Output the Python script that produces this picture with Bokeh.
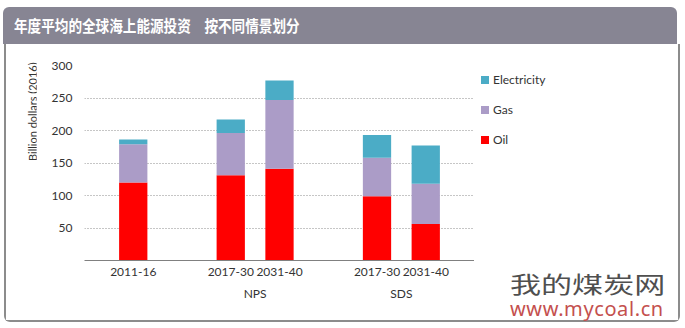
from bokeh.plotting import figure
from bokeh.layouts import column, row
from bokeh.models import ColumnDataSource, FactorRange, FixedTicker, Div
from bokeh.embed import file_html
from bokeh.resources import INLINE

# ---- data ----
groups = [" ", "NPS", "NPS", "SDS", "SDS"]
periods = ["2011-16", "2017-30", "2031-40", "2017-30", "2031-40"]
oil = [120, 131, 141, 99, 56]
gas = [59, 65, 106, 59, 62]
electricity = [7, 21, 30, 35, 59]
series = ["Oil", "Gas", "Electricity"]
colors = ["#ff0000", "#ab9cc7", "#4bacc6"]
y_ticks = [50, 100, 150, 200, 250, 300]
title_text = "年度平均的全球海上能源投资\u3000按不同情景划分"
y_title = "Billion dollars (2016)"

FONT = "Lato"
CH = 276                       # canvas height inside the grey border

factors = list(zip(groups, periods))
src = ColumnDataSource(dict(x=factors, Oil=oil, Gas=gas, Electricity=electricity))

xr = FactorRange(*factors, group_padding=1.0, factor_padding=0.0,
                 range_padding=1 / 7, range_padding_units="percent")
p = figure(x_range=xr, y_range=(0, 300), width=438, height=CH,
           output_backend="svg", toolbar_location=None,
           min_border_left=48, min_border_right=0,
           min_border_top=21, min_border_bottom=60)
p.outline_line_color = None
p.background_fill_color = "white"
p.border_fill_color = "white"

p.vbar_stack(series, x="x", width=0.58, fill_color=colors,
             line_color=None, source=src)

# ---- axes ----
xa = p.xaxis[0]
xa.axis_line_color = "#808080"
xa.major_tick_line_color = None
xa.major_tick_out = 0
xa.major_tick_in = 0
xa.major_label_standoff = 7
xa.major_label_text_font = FONT
xa.major_label_text_font_size = "12px"
xa.major_label_text_color = "#333333"
xa.group_text_font = FONT
xa.group_text_font_size = "12px"
xa.group_text_font_style = "normal"
xa.group_text_color = "#333333"
xa.separator_line_color = None

ya = p.yaxis[0]
ya.ticker = FixedTicker(ticks=y_ticks)
ya.axis_line_color = None
ya.major_tick_line_color = None
ya.minor_tick_line_color = None
ya.major_tick_out = 0
ya.major_tick_in = 0
ya.major_label_standoff = 12
ya.major_label_text_font = FONT
ya.major_label_text_font_size = "12px"
ya.major_label_text_color = "#333333"

p.xgrid.grid_line_color = None
p.ygrid.grid_line_color = "#8c8c8c"
p.ygrid.grid_line_dash = "1 2"

# ---- y-axis title (rotated, near the top as in the original) ----
ylab = Div(text=('<div style="width:14px;height:136px;margin-left:20px;'
                 'writing-mode:vertical-rl;transform:rotate(180deg);'
                 'text-align:center;line-height:14px;white-space:nowrap;'
                 'font-family:Lato;font-size:11px;color:#333333">'
                 + y_title + '</div>'),
           width=30, height=CH, margin=0,
           styles={"background-color": "white"})

# ---- legend (HTML, built from the series names and colours) ----
legend_html = "".join(
    '<div style="height:30px;line-height:30px;white-space:nowrap">'
    '<span style="display:inline-block;width:8px;height:8px;margin-right:4px;'
    'vertical-align:middle;position:relative;top:-1px;background:%s"></span>%s</div>'
    % (c, s)
    for s, c in reversed(list(zip(series, colors))))
leg = Div(text=legend_html, width=204, height=CH, margin=0,
          styles={"background-color": "white", "padding": "21px 0 0 7px",
                  "box-sizing": "border-box", "font-family": FONT,
                  "font-size": "12px", "color": "#333333"})

chart = row(ylab, p, leg, spacing=0, margin=(0, 0, 0, 4),
            styles={"border": "2px solid #8c8c8c", "border-top": "none",
                    "border-radius": "0 0 6px 6px", "background-color": "white"})

# ---- title bar ----
title = Div(text=('<span style="display:inline-block;white-space:nowrap;'
                  'transform:scaleX(0.85);transform-origin:left center">'
                  + title_text + '</span>'),
            width=674, height=37, margin=(7, 0, 0, 3),
            styles={"background-color": "#878593", "color": "white",
                    "font-family": "Noto Sans CJK SC", "font-weight": "bold",
                    "font-size": "16px", "line-height": "37px",
                    "padding-left": "11px", "box-sizing": "border-box",
                    "border-radius": "6px 6px 0 0"})

# ---- watermark ----
mark = Div(text=('<div style="font-family:\'Noto Sans CJK SC\';font-size:23px;'
                 'color:#4f4f4f;line-height:26px;height:26px;white-space:nowrap;'
                 'transform:scaleX(1.35);transform-origin:left center">我的煤炭网</div>'
                 '<div style="font-family:\'Noto Sans\';font-size:20px;color:#c4504e;'
                 'letter-spacing:0.6px;line-height:20px;margin-top:3px;'
                 'white-space:nowrap">www.mycoal.cn</div>'),
           width=172, height=50, margin=(-52, 0, 0, 510))

page = column(title, chart, mark, spacing=0)
open("out.html", "w").write(file_html(page, INLINE))
